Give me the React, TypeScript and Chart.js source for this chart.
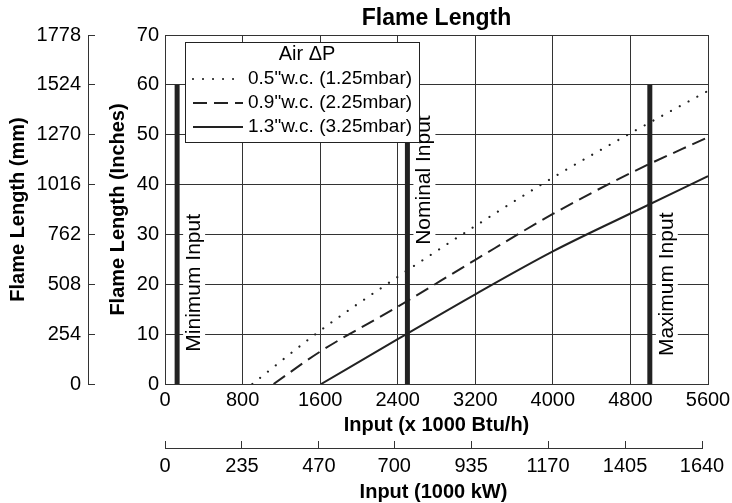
import { useEffect, useRef } from 'react';
import { Chart, registerables } from 'chart.js';

Chart.register(...registerables);

const FONT = "'Liberation Sans', Arial, Helvetica, sans-serif";

// Axis ticks
const btuTicks = [0, 800, 1600, 2400, 3200, 4000, 4800, 5600];
const kwTicks = [0, 235, 470, 700, 935, 1170, 1405, 1640];
const inchTicks = [0, 10, 20, 30, 40, 50, 60, 70];
const mmTicks = [0, 254, 508, 762, 1016, 1270, 1524, 1778];

// Series (x = input in 1000 Btu/h, y = flame length in inches)
const seriesLabels = ['0.5"w.c. (1.25mbar)', '0.9"w.c. (2.25mbar)', '1.3"w.c. (3.25mbar)'];
const lowX = [900, 1600, 2400, 3200, 4000, 4800, 5600];
const lowY = [0, 10.7, 21.5, 31.7, 41.4, 50.3, 58.8];
const midX = [1120, 1600, 2400, 3200, 4000, 4800, 5600];
const midY = [0, 6.5, 15.5, 24.9, 34.1, 42.3, 49.5];
const highX = [1610, 2400, 3200, 4000, 4800, 5600];
const highY = [0, 9.0, 18.0, 26.6, 34.2, 41.7];

// Input markers
const markerLabels = ['Minimum Input', 'Nominal Input', 'Maximum Input'];
const markerX = [125, 2500, 5000];
const markerTop = [60, 60, 60];
const markerTextY = [20.3, 40.9, 20.0];

const INK = '#222';

const annotationPlugin = {
  id: 'annotations',
  afterDatasetsDraw(chart: any) {
    const { ctx, chartArea } = chart;
    const xs = chart.scales.x;
    const ys = chart.scales.y;
    ctx.save();
    ctx.font = `21px ${FONT}`;
    markerLabels.forEach((t, i) => {
      const px = xs.getPixelForValue(markerX[i]) + 17;
      const py = ys.getPixelForValue(markerTextY[i]);
      const w = ctx.measureText(t).width;
      ctx.save();
      ctx.translate(px, py);
      ctx.rotate(-Math.PI / 2);
      ctx.fillStyle = '#fff';
      ctx.fillRect(-w / 2 - 2, -11, w + 4, 22);
      ctx.fillStyle = '#000';
      ctx.textAlign = 'center';
      ctx.textBaseline = 'middle';
      ctx.fillText(t, 0, 0);
      ctx.restore();
    });

    // legend box
    const lx = Math.round(chartArea.left + 20);
    const ly = Math.round(chartArea.top + 7);
    const lw = 234;
    const lh = 100;
    ctx.fillStyle = '#fff';
    ctx.fillRect(lx, ly, lw, lh);
    ctx.strokeStyle = INK;
    ctx.lineWidth = 1;
    ctx.strokeRect(lx + 0.5, ly + 0.5, lw, lh);
    ctx.fillStyle = '#000';
    ctx.font = `20px ${FONT}`;
    ctx.textAlign = 'center';
    ctx.textBaseline = 'middle';
    ctx.fillText('Air ΔP', lx + 122, ly + 12);
    ctx.font = `19px ${FONT}`;
    ctx.textAlign = 'left';
    chart.data.datasets.slice(0, 3).forEach((ds: any, i: number) => {
      const y = ly + 37 + i * 24;
      ctx.save();
      ctx.strokeStyle = ds.borderColor;
      ctx.lineWidth = ds.borderWidth;
      ctx.setLineDash(ds.borderDash || []);
      ctx.lineCap = ds.borderCapStyle || 'butt';
      ctx.beginPath();
      ctx.moveTo(lx + 8, y);
      ctx.lineTo(lx + 58, y);
      ctx.stroke();
      ctx.restore();
      ctx.fillText(ds.label, lx + 63, y);
    });
    ctx.restore();
  },
};

const kwAxisPlugin = {
  id: 'kwAxisLength',
  afterLayout(chart: any) {
    const s = chart.scales.xkw;
    if (!s) return;
    s.right = chart.chartArea.right - 6;
    s.width = s.right - s.left;
    s.configure();
  },
};

const toPts = (xs: number[], ys: number[]) => xs.map((x, i) => ({ x, y: ys[i] }));

export default function App() {
  const ref = useRef<HTMLCanvasElement | null>(null);
  useEffect(() => {
    if (!ref.current) return;
    Chart.defaults.font.family = FONT;
    Chart.defaults.font.size = 20;
    Chart.defaults.color = '#000';

    const curveBase = {
      xAxisID: 'x',
      yAxisID: 'y',
      borderColor: INK,
      pointRadius: 0,
      fill: false,
      cubicInterpolationMode: 'monotone' as const,
    };
    const markers = markerLabels.map((label, i) => ({
      label,
      xAxisID: 'x',
      yAxisID: 'y',
      data: [
        { x: markerX[i], y: 0 },
        { x: markerX[i], y: markerTop[i] },
      ],
      borderColor: INK,
      borderWidth: 5,
      pointRadius: 0,
      fill: false,
    }));

    const chart = new Chart(ref.current, {
      type: 'line',
      data: {
        datasets: [
          { ...curveBase, label: seriesLabels[0], data: toPts(lowX, lowY), borderWidth: 2.2, borderDash: [0.01, 10], borderCapStyle: 'round' },
          { ...curveBase, label: seriesLabels[1], data: toPts(midX, midY), borderWidth: 2, borderDash: [14, 7] },
          { ...curveBase, label: seriesLabels[2], data: toPts(highX, highY), borderWidth: 2 },
          ...markers,
        ] as any,
      },
      options: {
        responsive: false,
        animation: false,
        events: [],
        layout: { padding: 0 },
        plugins: {
          legend: { display: false },
          tooltip: { enabled: false },
          title: { display: false },
        },
        scales: {
          x: {
            type: 'linear',
            axis: 'x',
            position: 'bottom',
            weight: 0,
            min: 0,
            max: 5600,
            afterBuildTicks: (s: any) => { s.ticks = btuTicks.map((v) => ({ value: v })); },
            ticks: { padding: 4, maxRotation: 0, autoSkip: false, color: '#000', callback: (v: any) => String(v) },
            grid: { color: '#333', lineWidth: 1, drawTicks: false },
            border: { color: '#333', width: 1 },
            title: { display: true, text: 'Input (x 1000 Btu/h)', color: '#000', font: { size: 20, weight: 'bold' }, padding: { top: 0, bottom: 10.5 } },
            afterFit: (s: any) => { s.height = 64; s.paddingLeft = 0; s.paddingRight = 24; },
          },
          xkw: {
            type: 'linear',
            axis: 'x',
            position: 'bottom',
            weight: 1,
            min: 0,
            max: 1640,
            afterBuildTicks: (s: any) => { s.ticks = kwTicks.map((v) => ({ value: v })); },
            ticks: { padding: 13, maxRotation: 0, autoSkip: false, color: '#000', callback: (v: any) => String(v) },
            grid: { drawOnChartArea: false, drawTicks: true, tickLength: -7, color: '#333', lineWidth: 1 },
            border: { color: '#333', width: 1 },
            title: { display: true, text: 'Input (1000 kW)', color: '#000', font: { size: 20, weight: 'bold', lineHeight: 1.1 }, padding: { top: 0, bottom: 0 } },
            afterFit: (s: any) => { s.height = 55; s.paddingLeft = 0; s.paddingRight = 24; },
          },
          xtop: {
            type: 'linear',
            axis: 'x',
            position: 'top',
            min: 0,
            max: 1,
            ticks: { display: false },
            grid: { display: false },
            border: { display: false },
            title: { display: true, text: 'Flame Length', color: '#000', font: { size: 23, weight: 'bold' }, padding: { top: 5.3, bottom: 0 } },
            afterFit: (s: any) => { s.height = 35; s.paddingLeft = 0; s.paddingRight = 0; },
          },
          y: {
            type: 'linear',
            axis: 'y',
            position: 'left',
            weight: 0,
            min: 0,
            max: 70,
            afterBuildTicks: (s: any) => { s.ticks = inchTicks.map((v) => ({ value: v })); },
            ticks: { padding: 6, color: '#000', callback: (v: any) => String(v) },
            grid: { color: '#333', lineWidth: 1, drawTicks: false },
            border: { color: '#333', width: 1 },
            title: { display: true, text: 'Flame Length (Inches)', color: '#000', font: { size: 20, weight: 'bold' }, padding: { top: 18.3, bottom: 0 } },
            afterFit: (s: any) => { s.width = 77; s.paddingTop = 0; s.paddingBottom = 0; },
          },
          ymm: {
            type: 'linear',
            axis: 'y',
            position: 'left',
            weight: 1,
            min: 0,
            max: 1778,
            afterBuildTicks: (s: any) => { s.ticks = mmTicks.map((v) => ({ value: v })); },
            ticks: { padding: 14, color: '#000', callback: (v: any) => String(v) },
            grid: { drawOnChartArea: false, drawTicks: true, tickLength: -7, color: '#333', lineWidth: 1 },
            border: { color: '#333', width: 1 },
            title: { display: true, text: 'Flame Length (mm)', color: '#000', font: { size: 20, weight: 'bold' }, padding: { top: 6.3, bottom: 0 } },
            afterFit: (s: any) => { s.width = 88; s.paddingTop = 0; s.paddingBottom = 0; },
          },
        } as any,
      },
      plugins: [annotationPlugin, kwAxisPlugin],
    });
    return () => chart.destroy();
  }, []);

  return (
    <canvas
      ref={ref}
      width={732}
      height={503}
      style={{ position: 'fixed', left: 0, top: 0, width: 732, height: 503, display: 'block', background: '#fff' }}
    />
  );
}
